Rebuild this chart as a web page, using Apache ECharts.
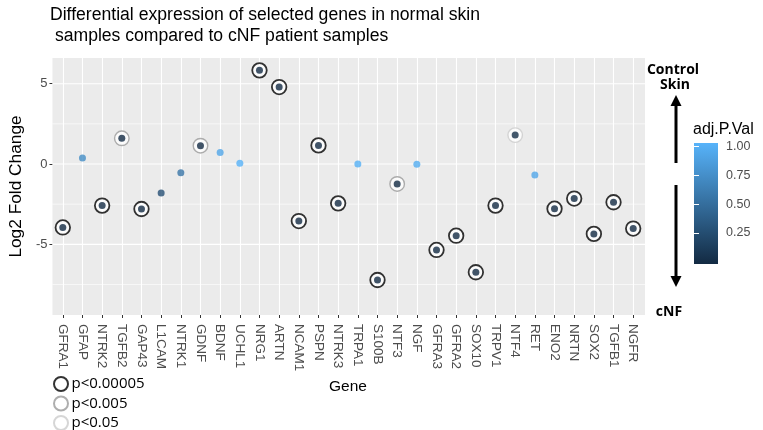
<!DOCTYPE html>
<html><head><meta charset="utf-8">
<script src="https://cdn.jsdelivr.net/npm/echarts@6/dist/echarts.min.js"></script>
<style>html,body{margin:0;padding:0;background:#fff}#c{width:763px;height:430px}</style>
</head><body><div id="c"></div>
<script>
const genes = ['GFRA1','GFAP','NTRK2','TGFB2','GAP43','L1CAM','NTRK1','GDNF','BDNF','UCHL1','NRG1','ARTN','NCAM1','PSPN','NTRK3','TRPA1','S100B','NTF3','NGF','GFRA3','GFRA2','SOX10','TRPV1','NTF4','RET','ENO2','NRTN','SOX2','TGFB1','NGFR'];
const log2FC = [-3.95,0.37,-2.59,1.6,-2.8,-1.8,-0.54,1.14,0.71,0.04,5.83,4.79,-3.55,1.16,-2.45,0.0,-7.22,-1.24,-0.02,-5.35,-4.46,-6.74,-2.59,1.8,-0.68,-2.78,-2.15,-4.35,-2.38,-4.02];
const adjP = [0.00001,0.73,0.00001,0.002,0.00001,0.27,0.56,0.002,0.92,1.0,0.00001,0.00001,0.00001,0.00001,0.00001,0.99,0.00001,0.003,0.96,0.00001,0.00001,0.00001,0.00001,0.02,0.92,0.00001,0.00001,0.00001,0.00001,0.00001];
// 0 = no ring, 1 = p<0.00005, 2 = p<0.005, 3 = p<0.05
const sigLevel = [1,0,1,2,1,0,0,2,0,0,1,1,1,1,1,0,1,2,0,1,1,1,1,3,0,1,1,1,1,1];
const sigNames = ['p<0.00005','p<0.005','p<0.05'];
const yTicks = [-5,0,5];
const yMinorGrid = [-7.5,-2.5,2.5];
const pTicks = [0.25,0.5,0.75,1.0];

const ringColors = ['#000000','#9a9a9a','#cccccc'];
const AX = 'Liberation Sans';

// panel geometry
const P = {left: 51, top: 58, width: 594, height: 257};
const yMin = -9.4, yMax = 6.6;

const chart = echarts.init(document.getElementById('c'), null, {renderer:'canvas'});

const ringSeries = sigNames.map((nm, k) => ({
  name: nm, type: 'scatter', xAxisIndex: 1, yAxisIndex: 1,
  symbol: 'circle', symbolSize: 14.5, z: 6,
  itemStyle: {color: '#ffffff', borderColor: ringColors[k], borderWidth: k === 0 ? 1.8 : 1.4},
  emphasis: {disabled: true},
  data: genes.map((g, i) => sigLevel[i] === k + 1 ? [i, log2FC[i]] : null).filter(d => d)
}));

const dotSeries = {
  name: 'adj.P.Val', type: 'scatter', xAxisIndex: 1, yAxisIndex: 1,
  symbol: 'circle', symbolSize: 7, z: 7,
  emphasis: {disabled: true},
  data: genes.map((g, i) => [i, log2FC[i], adjP[i]])
};

// horizontal panel grid lines, drawn through the panel's own value axes (x: 0..1 spans the panel)
const hLine = (v, w) => ({
  name: 'hgrid', type: 'line', xAxisIndex: 0, yAxisIndex: 0, z: 2, silent: true,
  showSymbol: false, symbol: 'none', animation: false, clip: false,
  lineStyle: {color: '#ffffff', width: w, type: 'solid'},
  emphasis: {disabled: true},
  data: [[0, v], [1, v]]
});
const gridLineSeries = [
  ...yMinorGrid.map(v => hLine(v, 0.6)),
  ...yTicks.map(v => hLine(v, 1.1))
];

const legends = sigNames.map((nm, k) => ({
  data: [nm], orient: 'vertical', left: 53, top: 376 + k * 19.5, padding: 0,
  itemWidth: 15, itemHeight: 14, icon: 'circle', selectedMode: false,
  textStyle: {fontFamily: 'Open Sans', fontSize: 15, color: '#000', padding: [0,0,0,-2]}
}));

const arrowColor = '#000';
chart.setOption({
  animation: false,
  title: {
    text: 'Differential expression of selected genes in normal skin\n samples compared to cNF patient samples',
    left: 45, top: 0,
    textStyle: {fontFamily: AX, fontSize: 17.6, fontWeight: 'normal', color: '#000', lineHeight: 21}
  },
  grid: [
    // 0: panel background + y labels
    {left: P.left, top: P.top, width: P.width, height: P.height, show: true, backgroundColor: '#ebebeb', borderWidth: 0},
    // 1: data grid (category centres)
    {left: P.left + 0.6 * P.width / 30.2, top: P.top, width: P.width * 29 / 30.2, height: P.height, show: false},
    // 2: colour bar
    {left: 694, top: 143, width: 24, height: 121, show: true, borderWidth: 0,
     backgroundColor: new echarts.graphic.LinearGradient(0, 0, 0, 1, [{offset: 0, color: '#57b3fa'}, {offset: 1, color: '#132a42'}])}
  ],
  xAxis: [
    {gridIndex: 0, type: 'value', min: 0, max: 1, show: false},
    {gridIndex: 1, type: 'category', data: genes, boundaryGap: false, z: 1,
     axisLine: {show: false, onZero: false},
     axisTick: {show: true, length: 3, lineStyle: {color: '#333', width: 1}},
     axisLabel: {rotate: -90, fontFamily: AX, fontSize: 13.5, color: '#4d4d4d', margin: 9, interval: 0},
     splitLine: {show: true, lineStyle: {color: '#ffffff', width: 1.1}},
     name: 'Gene', nameLocation: 'middle', nameGap: 62,
     nameTextStyle: {fontFamily: AX, fontSize: 15.5, color: '#000'}},
    {gridIndex: 2, type: 'value', min: 0, max: 1, show: false}
  ],
  yAxis: [
    {gridIndex: 0, type: 'value', min: yMin, max: yMax, z: 1,
     axisLine: {show: false},
     axisTick: {show: true, length: 3, lineStyle: {color: '#333'}, customValues: yTicks},
     axisLabel: {customValues: yTicks, fontFamily: AX, fontSize: 13, color: '#4d4d4d', margin: 5},
     splitLine: {show: false},
     name: 'Log2 Fold Change', nameLocation: 'middle', nameGap: 25,
     nameTextStyle: {fontFamily: AX, fontSize: 17.3, color: '#000'}},
    {gridIndex: 1, type: 'value', min: yMin, max: yMax, show: false},
    {gridIndex: 2, type: 'value', min: -0.02, max: 1.03, position: 'right', z: 1,
     axisLine: {show: false},
     axisTick: {show: true, inside: true, length: 5, lineStyle: {color: '#ffffff', width: 1}, customValues: pTicks},
     axisLabel: {customValues: pTicks, formatter: v => v.toFixed(2), fontFamily: AX, fontSize: 12.5, color: '#4d4d4d', margin: 8},
     splitLine: {show: false}},
    {gridIndex: 2, type: 'value', min: -0.02, max: 1.03, position: 'left', z: 1,
     axisLine: {show: false},
     axisTick: {show: true, inside: true, length: 5, lineStyle: {color: '#ffffff', width: 1}, customValues: pTicks},
     axisLabel: {show: false}, splitLine: {show: false}}
  ],
  visualMap: {
    type: 'continuous', show: false, min: 0, max: 1, dimension: 2, seriesIndex: 3,
    inRange: {color: ['#132B43', '#56B1F7']}
  },
  legend: legends,
  graphic: [
    {type: 'text', left: 693, top: 122, style: {text: 'adj.P.Val', fontFamily: AX, fontSize: 16, fill: '#000'}},
    {type: 'text', style: {text: 'Control', x: 673, y: 70, align: 'center', verticalAlign: 'middle', font: 'bold 14px "Open Sans"', fill: '#000'}},
    {type: 'text', style: {text: 'Skin', x: 675, y: 85, align: 'center', verticalAlign: 'middle', font: 'bold 14px "Open Sans"', fill: '#000'}},
    {type: 'text', style: {text: 'cNF', x: 669, y: 312, align: 'center', verticalAlign: 'middle', font: 'bold 14px "Open Sans"', fill: '#000'}},
    {type: 'line', shape: {x1: 676, y1: 163, x2: 676, y2: 104}, style: {stroke: arrowColor, lineWidth: 3}},
    {type: 'polygon', shape: {points: [[676, 95], [670.5, 106], [681.5, 106]]}, style: {fill: arrowColor}},
    {type: 'line', shape: {x1: 676, y1: 185, x2: 676, y2: 278}, style: {stroke: arrowColor, lineWidth: 3}},
    {type: 'polygon', shape: {points: [[676, 287], [670.5, 276], [681.5, 276]]}, style: {fill: arrowColor}}
  ],
  series: [...ringSeries, dotSeries, ...gridLineSeries]
});
</script></body></html>
